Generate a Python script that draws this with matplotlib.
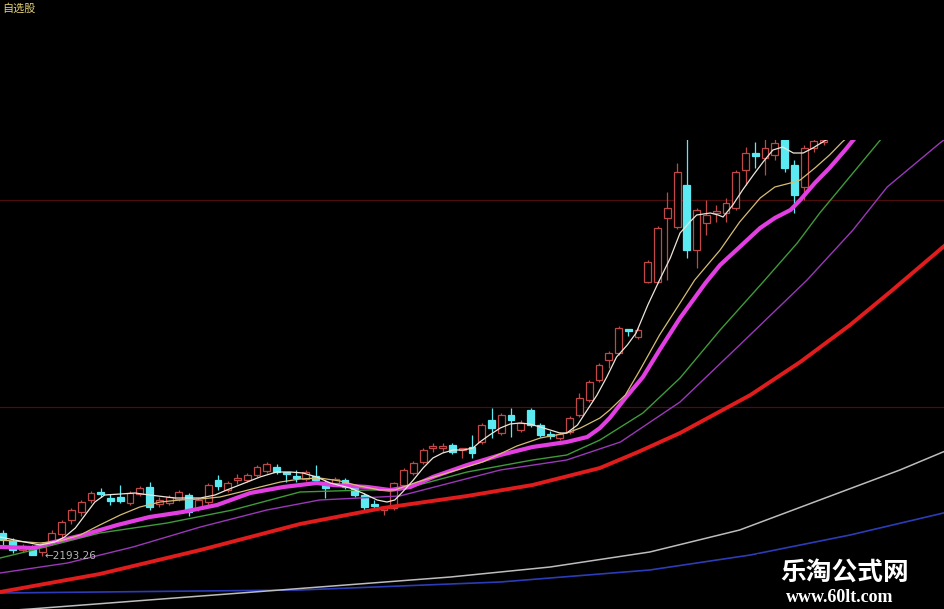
import matplotlib
matplotlib.use("Agg")
import matplotlib.pyplot as plt
from matplotlib.patches import Rectangle

# candle data (index = trading day)
opens = [2308, 2268, 2223, 2238, 2213, 2268, 2303, 2373, 2413, 2473,
         2513, 2483, 2488, 2458, 2503, 2538, 2453, 2458, 2478, 2498,
         2433, 2463, 2573, 2523, 2573, 2573, 2598, 2618, 2638, 2613,
         2593, 2578, 2593, 2563, 2558, 2573, 2538, 2498, 2453, 2423,
         2433, 2548, 2608, 2663, 2733, 2733, 2748, 2723, 2738, 2763,
         2873, 2808, 2898, 2823, 2923, 2848, 2803, 2783, 2813, 2898,
         2973, 3073, 3173, 3208, 3328, 3288, 3563, 3563, 3883, 3838,
         4048, 3723, 3858, 3908, 3908, 3933, 4123, 4208, 4183, 4198,
         4273, 4148, 4038, 4233, 4263]
closes = [2273, 2223, 2243, 2198, 2238, 2308, 2363, 2423, 2463, 2508,
          2503, 2468, 2468, 2508, 2533, 2438, 2473, 2488, 2513, 2413,
          2473, 2548, 2543, 2558, 2583, 2598, 2638, 2653, 2613, 2603,
          2583, 2613, 2573, 2533, 2578, 2538, 2498, 2438, 2443, 2433,
          2558, 2623, 2658, 2723, 2743, 2743, 2713, 2733, 2708, 2848,
          2833, 2898, 2873, 2858, 2848, 2798, 2793, 2803, 2883, 2983,
          3063, 3148, 3208, 3333, 3318, 3323, 3663, 3833, 3933, 4113,
          3723, 3923, 3898, 3918, 3958, 4113, 4208, 4193, 4233, 4258,
          4133, 3998, 4233, 4268, 4273]
highs = [2323, 2283, 2253, 2248, 2248, 2323, 2373, 2433, 2473, 2518,
         2533, 2503, 2548, 2518, 2543, 2563, 2488, 2498, 2523, 2508,
         2483, 2558, 2598, 2568, 2603, 2608, 2648, 2663, 2653, 2613,
         2623, 2623, 2648, 2573, 2588, 2583, 2548, 2508, 2473, 2433,
         2563, 2633, 2668, 2733, 2758, 2758, 2758, 2733, 2798, 2858,
         2933, 2908, 2933, 2873, 2933, 2858, 2818, 2813, 2893, 3008,
         3073, 3158, 3218, 3343, 3328, 3333, 3673, 3843, 4013, 4158,
         4298, 3933, 3973, 3948, 3983, 4123, 4238, 4263, 4283, 4298,
         4298, 4173, 4248, 4298, 4298]
lows = [2248, 2208, 2213, 2196, 2193.26, 2248, 2283, 2353, 2393, 2458,
        2488, 2448, 2458, 2448, 2493, 2423, 2438, 2448, 2468, 2393,
        2418, 2448, 2523, 2513, 2553, 2563, 2588, 2608, 2603, 2563,
        2563, 2568, 2563, 2483, 2548, 2528, 2488, 2423, 2423, 2398,
        2423, 2538, 2598, 2653, 2713, 2713, 2703, 2683, 2683, 2753,
        2783, 2798, 2788, 2813, 2838, 2788, 2778, 2773, 2803, 2888,
        2963, 3063, 3133, 3198, 3293, 3278, 3558, 3558, 3573, 3828,
        3683, 3633, 3798, 3863, 3863, 3923, 4048, 4133, 4098, 4173,
        4113, 3908, 3973, 4213, 4248]

# moving average lines (day index, value)
ma5_x = [-0.3, 1.7, 3.8, 5.3, 6.3, 7.4, 8.4, 9.4, 10.4, 12.0, 13.5, 15.0, 17.6, 20.2,
         21.7, 22.9, 25.0, 26.3, 28.0, 29.4, 30.7, 32.1, 33.5, 35.5, 36.8, 38.3, 39.3,
         40.1, 40.9, 42.0, 43.0, 44.0, 45.0, 46.1, 47.1, 48.1, 48.8, 49.8, 50.9, 51.9,
         52.9, 53.9, 55.0, 56.0, 57.0, 57.7, 58.8, 59.8, 60.8, 61.8, 62.8, 63.9, 64.8,
         66.0, 67.2, 68.3, 69.3, 70.3, 71.0, 72.4, 73.2, 73.7, 74.7, 75.7, 76.8, 77.8,
         78.8, 79.8, 80.9, 81.9, 82.9, 83.9, 84.6]
ma5_y = [2288, 2268, 2248, 2263, 2288, 2333, 2398, 2463, 2498, 2503, 2508, 2498, 2483, 2483,
         2498, 2523, 2563, 2588, 2613, 2613, 2608, 2588, 2558, 2533, 2508, 2473, 2463,
         2473, 2513, 2573, 2633, 2683, 2708, 2723, 2723, 2733, 2763, 2798, 2833, 2853,
         2858, 2853, 2838, 2823, 2808, 2808, 2848, 2923, 2998, 3088, 3188, 3248, 3308,
         3448, 3573, 3683, 3808, 3863, 3898, 3908, 3898, 3888, 3948, 4023, 4098, 4163,
         4223, 4238, 4208, 4208, 4233, 4263, 4283]

ma10_x = [-0.3, 3.8, 5.8, 7.9, 9.9, 12.0, 14.0, 16.1, 18.1, 20.2, 22.2, 24.3, 26.3, 28.4,
          30.4, 32.4, 34.5, 36.5, 38.6, 40.1, 42.4, 45.8, 49.1, 52.6, 55.0, 57.7, 59.1,
          61.1, 62.1, 63.7, 65.2, 67.2, 69.3, 70.8, 73.4, 75.4, 77.5, 79.0, 80.6, 81.6,
          83.1, 84.6, 85.9, 86.7]
ma10_y = [2273, 2258, 2268, 2298, 2348, 2398, 2438, 2463, 2473, 2478, 2488, 2513, 2538, 2563,
          2578, 2583, 2568, 2543, 2523, 2523, 2563, 2613, 2663, 2743, 2783, 2808, 2833,
          2883, 2923, 2998, 3123, 3298, 3458, 3573, 3723, 3863, 3983, 4038, 4058, 4073,
          4133, 4198, 4263, 4298]

ma20_x = [-0.3, 3.1, 4.8, 8.2, 11.7, 15.0, 18.4, 21.9, 25.3, 28.7, 32.1, 33.8, 37.3, 39.6,
          41.7, 44.0, 47.5, 50.9, 54.2, 57.7, 59.8, 61.1, 62.1, 63.7, 65.5, 67.2, 69.3,
          71.9, 73.4, 75.4, 77.5, 79.0, 80.6, 81.6, 83.1, 84.6, 86.2, 87.2]
ma20_y = [2238, 2233, 2258, 2298, 2348, 2388, 2413, 2448, 2508, 2538, 2558, 2548, 2538, 2523,
          2538, 2588, 2648, 2698, 2738, 2763, 2788, 2833, 2883, 2983, 3088, 3223, 3383,
          3558, 3648, 3738, 3833, 3883, 3923, 3973, 4058, 4133, 4223, 4283]

ma30_x = [-0.3, 3.1, 9.9, 16.8, 23.5, 30.4, 37.3, 40.6, 47.5, 54.2, 57.7, 61.1, 65.5,
          69.3, 73.4, 77.8, 81.3, 83.6, 87.0, 89.8, 90.8]
ma30_y = [2183, 2223, 2308, 2358, 2423, 2513, 2523, 2523, 2613, 2673, 2698, 2773, 2908,
          3083, 3323, 3563, 3758, 3908, 4108, 4273, 4333]

ma60_x = [-0.3, 6.6, 13.3, 20.2, 27.0, 32.4, 40.6, 50.9, 57.7, 63.2, 69.3, 75.4, 82.3,
          87.0, 90.5, 95.9, 96.7]
ma60_y = [2108, 2158, 2238, 2338, 2423, 2473, 2493, 2623, 2673, 2763, 2963, 3248, 3573,
          3823, 4038, 4258, 4288]

ma120_x = [-0.3, 9.9, 20.2, 30.4, 38.9, 47.5, 54.2, 61.1, 65.0, 69.3, 76.5, 81.6, 86.7,
           90.8, 96.7]
ma120_y = [2013, 2103, 2223, 2353, 2433, 2493, 2548, 2633, 2713, 2808, 2998, 3163, 3348,
           3513, 3758]

ma250_x = [-0.3, 2.8, 32.4, 45.8, 56.0, 66.2, 75.4, 83.6, 91.8, 96.7]
ma250_y = [1918, 1928, 2038, 2088, 2138, 2213, 2323, 2473, 2623, 2723]

blue_x = [-0.3, 30.4, 50.9, 66.2, 76.5, 86.7, 96.7]
blue_y = [2008, 2023, 2063, 2123, 2198, 2298, 2413]

grid_levels = [2938, 3973]
low_label = "\u21902193.26"

UP = "#c04848"
DOWN = "#5ceaf2"

fig = plt.figure(figsize=(9.45, 6.09), dpi=100, facecolor="black")
ax = fig.add_axes([0, 0, 1, 469 / 609])
ax.set_facecolor("black")
ax.set_xlim(-0.31, 96.42)
ax.set_ylim(1928, 4273)
ax.axis("off")

for lv in grid_levels:
    ax.axhline(lv, color="#4e0d0d", lw=0.9, zorder=1)

# candles
w = 0.7
for i in range(len(opens)):
    o, h, l, c = opens[i], highs[i], lows[i], closes[i]
    if c >= o:
        ax.vlines(i, c, h, color=UP, lw=0.9, zorder=2)
        ax.vlines(i, l, o, color=UP, lw=0.9, zorder=2)
        ax.add_patch(Rectangle((i - w / 2, o), w, max(c - o, 3), facecolor="black",
                               edgecolor=UP, lw=0.9, zorder=2))
    else:
        ax.vlines(i, l, h, color=DOWN, lw=0.9, zorder=2)
        ax.add_patch(Rectangle((i - w / 2, c), w, max(o - c, 3), facecolor=DOWN,
                               edgecolor=DOWN, lw=0.9, zorder=2))

# average lines
ax.plot(blue_x, blue_y, color="#2c3cb8", lw=1.2, zorder=3)
ax.plot(ma250_x, ma250_y, color="#bdbdbd", lw=1.1, zorder=3)
ax.plot(ma120_x, ma120_y, color="#e01c1c", lw=2.8, zorder=3)
ax.plot(ma60_x, ma60_y, color="#9a38b8", lw=1.0, zorder=3)
ax.plot(ma30_x, ma30_y, color="#3f9a3a", lw=1.0, zorder=3)
ax.plot(ma20_x, ma20_y, color="#e23ee2", lw=3.0, zorder=3)
ax.plot(ma10_x, ma10_y, color="#d6bd72", lw=0.9, zorder=3)
ax.plot(ma5_x, ma5_y, color="#ece6da", lw=0.9, zorder=3)

ax.text(4.25, 2195, low_label, color="#b8b8b8", fontsize=7.5, va="center", ha="left",
        family=["DejaVu Sans"], zorder=4)

fig.text(2 / 945, 1 - 3 / 609, "自选股", color="#e2d070", fontsize=8, va="top", ha="left",
         family=["Noto Sans CJK SC", "DejaVu Sans"])

# watermark
fig.add_artist(Rectangle((757 / 945, 0), 188 / 945, 55 / 609, transform=fig.transFigure,
                         facecolor="black", edgecolor="none", zorder=5))
fig.text(845 / 945, 1 - 572 / 609, "乐淘公式网", color="white", fontsize=18.5, fontweight="bold",
         va="center", ha="center", family=["Noto Sans CJK SC"], zorder=6)
fig.text(840 / 945, 1 - 597 / 609, "www.60lt.com", color="white", fontsize=13,
         fontweight="bold", va="center", ha="center", family=["Liberation Serif"], zorder=6)

fig.savefig("out.png", dpi=100, facecolor="black")
